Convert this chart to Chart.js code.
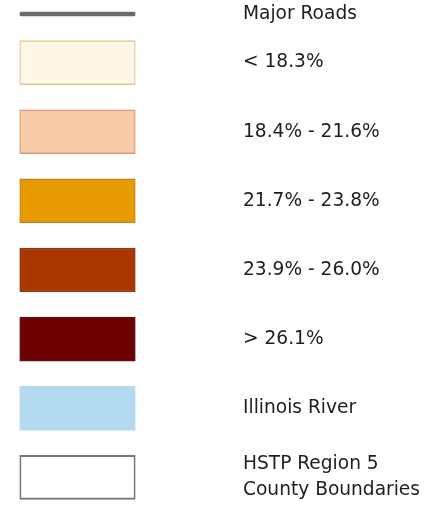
<!DOCTYPE html>
<html lang="en">
<head>
  <meta charset="UTF-8">
  <title>Legend</title>
  <script src="https://cdn.jsdelivr.net/npm/chart.js"></script>
  <style>
    html, body { margin: 0; padding: 0; background: #fff; overflow: hidden; }
    #wrap { width: 433px; height: 512px; position: relative; }
  </style>
</head>
<body>
  <div id="wrap"><canvas id="legenda"></canvas></div>
  <script>
    // legend rows
    const roadLabels = ['Major Roads'];
    const classLabels = [
      '< 18.3%',
      '18.4% - 21.6%',
      '21.7% - 23.8%',
      '23.9% - 26.0%',
      '> 26.1%',
      'Illinois River',
      ['HSTP Region 5', 'County Boundaries']
    ];
    // each swatch fills the whole symbol box
    const roadValues = [[0, 1]];
    const classValues = [[0, 1], [0, 1], [0, 1], [0, 1], [0, 1], [0, 1], [0, 1]];

    const classFills = ['#fff8e8', '#f9cba8', '#e89b00', '#a93800', '#6e0000', '#b4daf2', '#ffffff'];
    const classBorders = ['#e3c68e', '#d29c7e', '#b9822a', '#8e3a16', '#5c1414', '#b4daf2', '#777777'];
    const classBorderW = [1.5, 1.5, 1.5, 1.5, 1.5, 0, 2];

    const fonte = { family: 'DejaVu Sans', size: 18.6, lineHeight: 1.4 };

    // fixed axis width, and no extra room above/below for the labels
    const ajustaEixo = s => {
      s.width = 297.5;
      s.paddingTop = 0;
      s.paddingBottom = 0;
    };

    new Chart(document.getElementById('legenda'), {
      type: 'bar',
      data: {
        datasets: [
          {
            label: 'roads',
            data: roadValues,
            yAxisID: 'yRoad',
            grouped: false,
            backgroundColor: '#6b6b6b',
            borderWidth: 0,
            barThickness: 4,
            borderRadius: 2,
            borderSkipped: false
          },
          {
            label: 'classes',
            data: classValues,
            yAxisID: 'y',
            grouped: false,
            backgroundColor: classFills,
            borderColor: classBorders,
            borderWidth: classBorderW,
            barThickness: 44,
            borderSkipped: false
          }
        ]
      },
      options: {
        indexAxis: 'y',
        responsive: true,
        maintainAspectRatio: false,
        animation: false,
        layout: { padding: { left: 19.5, right: 0, top: 0, bottom: 0 } },
        plugins: { legend: { display: false }, tooltip: { enabled: false } },
        scales: {
          x: { display: false, min: 0, max: 1 },
          yRoad: {
            type: 'category',
            labels: roadLabels,
            position: 'right',
            stack: 'rows',
            stackWeight: 28,
            offset: true,
            grid: { display: false, drawTicks: false },
            border: { display: false },
            ticks: { padding: 107.5, color: '#1e1e1e', font: fonte, autoSkip: false },
            afterFit: ajustaEixo
          },
          y: {
            type: 'category',
            labels: classLabels,
            position: 'right',
            stack: 'rows',
            stackWeight: 484,
            offset: true,
            grid: { display: false, drawTicks: false },
            border: { display: false },
            ticks: { padding: 107.5, color: '#1e1e1e', font: fonte, autoSkip: false },
            afterFit: ajustaEixo
          }
        }
      }
    });
  </script>
</body>
</html>
